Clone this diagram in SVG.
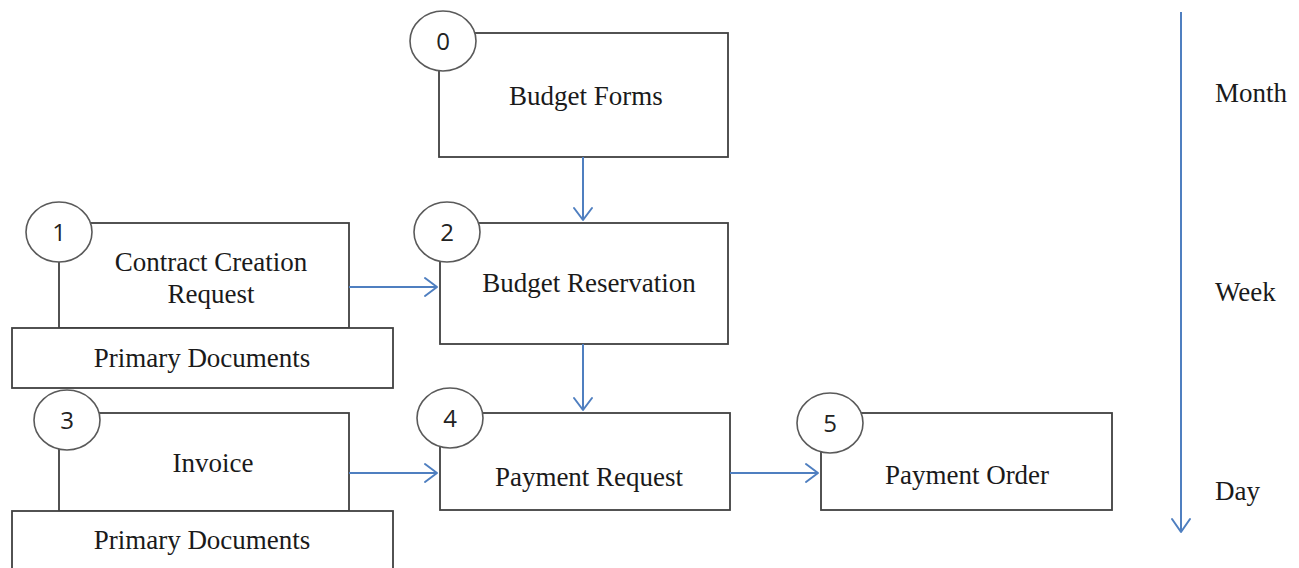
<svg xmlns="http://www.w3.org/2000/svg" width="1299" height="568" viewBox="0 0 1299 568">
  <style>
    .box { fill: #ffffff; stroke: #404040; stroke-width: 1.8; }
    .badge { fill: #ffffff; stroke: #5a5a5a; stroke-width: 1.6; }
    .num { font-family: "Open Sans", "Liberation Sans", sans-serif; font-size: 24px; font-weight: 500; fill: #222222; text-anchor: middle; }
    .lbl { font-family: "Liberation Serif", "Times New Roman", serif; font-size: 27px; fill: #1a1a1a; text-anchor: middle; }
    .axis { font-family: "Liberation Serif", "Times New Roman", serif; font-size: 27px; fill: #1a1a1a; }
    .link { fill: none; stroke: #4f7fc0; stroke-width: 2; }
    .head { fill: none; stroke: #4f7fc0; stroke-width: 2; stroke-linecap: round; stroke-linejoin: round; }
  </style>

  <!-- process steps -->
  <g id="node-0">
    <rect class="box" x="439" y="33" width="289" height="124"/>
    <ellipse class="badge" cx="443" cy="41" rx="33" ry="30"/>
    <text class="num" x="443" y="50">0</text>
    <text class="lbl" x="586" y="105">Budget Forms</text>
  </g>

  <g id="node-1">
    <rect class="box" x="59" y="223" width="290" height="105"/>
    <ellipse class="badge" cx="59" cy="232" rx="33" ry="30"/>
    <text class="num" x="59" y="241">1</text>
    <text class="lbl" x="211" y="271">Contract Creation</text>
    <text class="lbl" x="211" y="303">Request</text>
  </g>

  <g id="docs-1">
    <rect class="box" x="12" y="328" width="381" height="60"/>
    <text class="lbl" x="202" y="367">Primary Documents</text>
  </g>

  <g id="node-2">
    <rect class="box" x="440" y="223" width="288" height="121"/>
    <ellipse class="badge" cx="447" cy="232" rx="33" ry="30"/>
    <text class="num" x="447" y="241">2</text>
    <text class="lbl" x="589" y="292">Budget Reservation</text>
  </g>

  <g id="node-3">
    <rect class="box" x="59" y="413" width="290" height="98"/>
    <ellipse class="badge" cx="67" cy="420" rx="33" ry="30"/>
    <text class="num" x="67" y="429">3</text>
    <text class="lbl" x="213" y="472">Invoice</text>
  </g>

  <g id="docs-3">
    <rect class="box" x="12" y="511" width="381" height="70"/>
    <text class="lbl" x="202" y="549">Primary Documents</text>
  </g>

  <g id="node-4">
    <rect class="box" x="440" y="413" width="290" height="97"/>
    <ellipse class="badge" cx="450" cy="418" rx="33" ry="30"/>
    <text class="num" x="450" y="427">4</text>
    <text class="lbl" x="589" y="486">Payment Request</text>
  </g>

  <g id="node-5">
    <rect class="box" x="821" y="413" width="291" height="97"/>
    <ellipse class="badge" cx="830" cy="423" rx="33" ry="30"/>
    <text class="num" x="830" y="432">5</text>
    <text class="lbl" x="967" y="484">Payment Order</text>
  </g>

  <!-- time scale -->
  <g id="timescale">
    <line class="link" x1="1181" y1="12" x2="1181" y2="532"/>
    <polyline class="head" points="1172,519 1181,532 1190,519"/>
    <text class="axis" x="1215" y="102">Month</text>
    <text class="axis" x="1215" y="301">Week</text>
    <text class="axis" x="1215" y="500">Day</text>
  </g>

  <!-- connectors -->
  <g id="connectors">
    <line class="link" x1="583" y1="157" x2="583" y2="220"/>
    <polyline class="head" points="574,208 583,220 592,208"/>

    <line class="link" x1="349" y1="287" x2="437" y2="287"/>
    <polyline class="head" points="425,278 437,287 425,296"/>

    <line class="link" x1="583" y1="344" x2="583" y2="410"/>
    <polyline class="head" points="574,398 583,410 592,398"/>

    <line class="link" x1="349" y1="473" x2="437" y2="473"/>
    <polyline class="head" points="425,464 437,473 425,482"/>

    <line class="link" x1="730" y1="473" x2="818" y2="473"/>
    <polyline class="head" points="806,464 818,473 806,482"/>
  </g>
</svg>
